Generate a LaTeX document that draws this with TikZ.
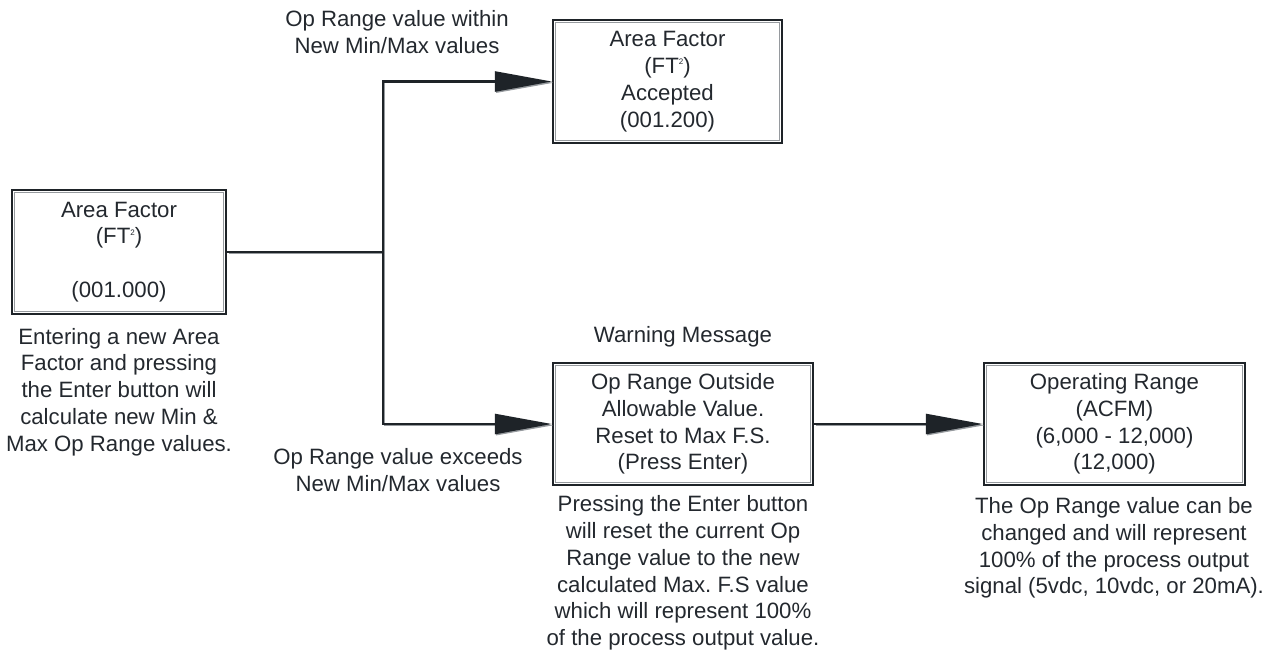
\documentclass[tikz,border=0pt]{standalone}
\usepackage{fontspec}
\setmainfont{Liberation Sans}
\usetikzlibrary{arrows.meta}
\frenchspacing

\definecolor{ink}{RGB}{35,40,46}
\definecolor{edge}{RGB}{30,35,40}
\definecolor{rim}{RGB}{150,154,158}

\newcommand\sqr{\raisebox{0.75ex}{\fontsize{8}{8}\selectfont 2}}

% connector paths, drawn twice: once as a faint offset rim, once in full
\newcommand\linkpaths{%
  \draw[link] (b1.east) -- (split);
  \draw[link,-{Triangle[length=57pt 0,width=20pt 0]}] (split) |- (b2.west);
  \draw[link,-{Triangle[length=57pt 0,width=20pt 0]}] (split) |- (b3.west);
  \draw[link,-{Triangle[length=57pt 0,width=20pt 0]}] (b3.east) -- (b4.west);
}

\begin{document}
\begin{tikzpicture}[x=1pt,y=1pt,
  txt/.style={text=ink, font=\fontsize{22.2}{26.8}\selectfont, align=center, inner sep=0pt},
  box/.style={txt, draw=edge, line width=2.4pt, inner sep=0pt,
    path picture={\draw[rim,line width=0.9pt]
      ([shift={(2.4pt,-2.4pt)}]path picture bounding box.north west) rectangle
      ([shift={(-2.4pt,2.4pt)}]path picture bounding box.south east);}},
  link/.style={draw=edge, line width=2.4pt}]
\useasboundingbox (0,0) rectangle (1281,-656);

% boxes
\node[box, minimum width=214pt, minimum height=124pt] (b1) at (119,-252)
  {Area Factor\\(FT\sqr)\\[26.8pt](001.000)};
\node[box, minimum width=229pt, minimum height=123pt] (b2) at (667.5,-81.5)
  {Area Factor\\(FT\sqr)\\Accepted\\(001.200)};
\node[box, minimum width=260pt, minimum height=122pt] (b3) at (683,-424)
  {Op Range Outside\\Allowable Value.\\Reset to Max F.S.\\(Press Enter)};
\node[box, minimum width=261pt, minimum height=122pt] (b4) at (1114.5,-424)
  {Operating Range\\(ACFM)\\(6,000 - 12,000)\\(12,000)};

\coordinate (split) at (383,-252);

% connectors
\begin{scope}[transform canvas={shift={(1.3pt,-1.3pt)}},
  link/.style={draw=rim, line width=1pt}]
  \linkpaths
\end{scope}
\linkpaths

% labels
\node[txt] (within) at (397,-32) {Op Range value within\\New Min/Max values};
\node[txt] (exceeds) at (398,-470) {Op Range value exceeds\\New Min/Max values};
\node[txt] (warn) at (683,-337) {Warning Message};
\node[txt] (n1) at (119,-392) {Entering a new Area\\Factor and pressing\\the Enter button will\\calculate new Min \&\\Max Op Range values.};
\node[txt] (n3) at (683,-573) {Pressing the Enter button\\will reset the current Op\\Range value to the new\\calculated Max. F.S value\\which will represent 100\%\\of the process output value.};
\node[txt] (n4) at (1114,-548) {The Op Range value can be\\changed and will represent\\100\% of the process output\\signal (5vdc, 10vdc, or 20mA).};
\end{tikzpicture}
\end{document}
